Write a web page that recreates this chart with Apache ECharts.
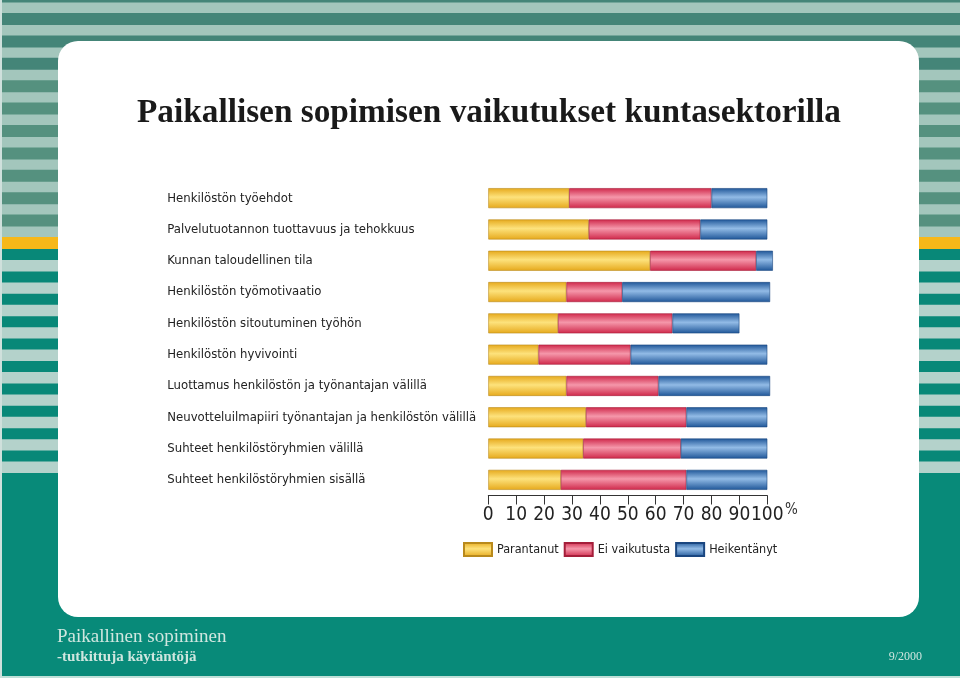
<!DOCTYPE html>
<html>
<head>
<meta charset="utf-8">
<script src="https://cdn.jsdelivr.net/npm/echarts@6/dist/echarts.min.js"></script>
<style>
html,body{margin:0;padding:0;background:#fff;}
#chart{width:960px;height:678px;}
</style>
</head>
<body>
<div id="chart"></div>
<script>
// ---- data ----
const categories = [
  'Henkilöstön työehdot',
  'Palvelutuotannon tuottavuus ja tehokkuus',
  'Kunnan taloudellinen tila',
  'Henkilöstön työmotivaatio',
  'Henkilöstön sitoutuminen työhön',
  'Henkilöstön hyvivointi',
  'Luottamus henkilöstön ja työnantajan välillä',
  'Neuvotteluilmapiiri työnantajan ja henkilöstön välillä',
  'Suhteet henkilöstöryhmien välillä',
  'Suhteet henkilöstöryhmien sisällä'
];
const parantanut   = [29, 36, 58, 28, 25, 18, 28, 35, 34, 26];
const eiVaikutusta = [51, 40, 38, 20, 41, 33, 33, 36, 35, 45];
const heikentanyt  = [20, 24,  6, 53, 24, 49, 40, 29, 31, 29];
const seriesNames = ['Parantanut', 'Ei vaikutusta', 'Heikentänyt'];
const titleText = 'Paikallisen sopimisen vaikutukset kuntasektorilla';

// ---- styling ----
const condensed = "'Liberation Sans Narrow','DejaVu Sans Condensed','Roboto Condensed','Arial Narrow',sans-serif";
function grad(dark, light) {
  return new echarts.graphic.LinearGradient(0, 0, 0, 1, [
    {offset: 0, color: dark},
    {offset: 0.45, color: light},
    {offset: 1, color: dark}
  ]);
}
const colors = [
  {fill: grad('#e6a91c', '#fde27c'), border: '#b98a1c'},
  {fill: grad('#cf284a', '#f597aa'), border: '#a51e3a'},
  {fill: grad('#1f5698', '#92bbe6'), border: '#1a4680'}
];

// decorative background
const bg = [];
bg.push({type: 'rect', shape: {x: 0, y: 0, width: 960, height: 237}, style: {fill: '#a3c6bc'}, z: -20});
for (let k = 0; k <= 10; k++) {
  const y = -9.4 + 22.4 * k;
  bg.push({type: 'rect', shape: {x: 0, y: y, width: 960, height: 12}, style: {fill: k < 4 ? '#448578' : '#55917f'}, z: -19});
}
bg.push({type: 'rect', shape: {x: 0, y: 237, width: 960, height: 12}, style: {fill: '#f6b819'}, z: -19});
bg.push({type: 'rect', shape: {x: 0, y: 249, width: 960, height: 224}, style: {fill: '#b4d2cb'}, z: -20});
for (let k = 0; k < 10; k++) {
  const y = 249 + 22.4 * k;
  bg.push({type: 'rect', shape: {x: 0, y: y, width: 960, height: 11}, style: {fill: '#088878'}, z: -19});
}
bg.push({type: 'rect', shape: {x: 0, y: 473, width: 960, height: 205}, style: {fill: '#088a79'}, z: -19});
bg.push({type: 'rect', shape: {x: 0, y: 676, width: 960, height: 2}, style: {fill: '#bfe0d8'}, z: -18});
bg.push({type: 'rect', shape: {x: 0, y: 0, width: 2, height: 678}, style: {fill: '#cfe0dc'}, z: -18});
bg.push({type: 'rect', shape: {x: 58, y: 41, width: 861, height: 576, r: 20}, style: {fill: '#ffffff'}, z: -10});
bg.push({type: 'text', x: 57, y: 628, style: {text: 'Paikallinen sopiminen', fill: '#cfe6df', font: "19px 'Liberation Serif', serif"}, z: -5});
bg.push({type: 'text', x: 57, y: 650, style: {text: '-tutkittuja käytäntöjä', fill: '#cfe6df', font: "bold 15px 'Liberation Serif', serif"}, z: -5});
bg.push({type: 'text', x: 922, y: 651, style: {text: '9/2000', fill: '#cfe6df', font: "12px 'Liberation Serif', serif", align: 'right'}, z: -5});
bg.push({type: 'text', x: 785, y: 503, style: {text: '%', fill: '#333', font: "15px " + condensed}, z: 5});

const data = [parantanut, eiVaikutusta, heikentanyt];
const chart = echarts.init(document.getElementById('chart'), null, {renderer: 'canvas'});
chart.setOption({
  animation: false,
  title: {
    text: titleText,
    left: 137, top: 97, padding: 0,
    textStyle: {fontFamily: "'Liberation Serif', serif", fontWeight: 'bold', fontSize: 33.3, color: '#1a1a1a'}
  },
  graphic: bg,
  legend: {
    data: seriesNames,
    icon: 'rect',
    left: 463, top: 542, padding: 0,
    itemWidth: 28, itemHeight: 13, itemGap: 5,
    textStyle: {fontFamily: condensed, fontSize: 12.5, color: '#222'}
  },
  grid: {left: 488.3, right: 192.7, top: 182.5, height: 313, containLabel: false},
  xAxis: {
    type: 'value', min: 0, max: 100, interval: 10,
    axisLine: {show: true, lineStyle: {color: '#333', width: 1}},
    axisTick: {show: true, inside: false, length: 9, lineStyle: {color: '#333'}},
    splitLine: {show: false},
    axisLabel: {fontFamily: condensed, fontSize: 19, color: '#222', margin: 10}
  },
  yAxis: {
    type: 'category', data: categories, inverse: true,
    axisLine: {show: false}, axisTick: {show: false},
    axisLabel: {align: 'left', margin: 321, fontFamily: condensed, fontSize: 13, color: '#222'}
  },
  series: seriesNames.map((name, i) => ({
    name: name, type: 'bar', stack: 'total', barWidth: 20, clip: false,
    data: data[i],
    itemStyle: {color: colors[i].fill, borderColor: colors[i].border, borderWidth: 0.6}
  }))
});
</script>
</body>
</html>
